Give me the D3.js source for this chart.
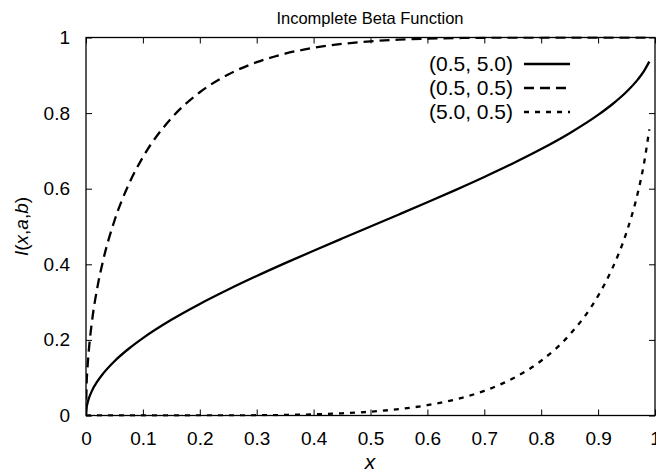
<!DOCTYPE html>
<html><head><meta charset="utf-8">
<script src="https://cdn.jsdelivr.net/npm/d3@7"></script>
<style>
body{margin:0;background:#fff}
text{font-family:"Liberation Sans",Arial,Helvetica,sans-serif;fill:#000}
</style>
</head><body><svg id="c" width="656" height="475"></svg>
<script>
// ---- data ----
const xValues = [0, 0.001, 0.0025, 0.005, 0.01, 0.02, 0.03, 0.05, 0.075, 0.1, 0.15, 0.2, 0.25, 0.3, 0.35, 0.4, 0.45, 0.5, 0.55, 0.6, 0.65, 0.7, 0.75, 0.8, 0.85, 0.9, 0.925, 0.95, 0.97, 0.98, 0.99];
const seriesA = [0, 0.0201, 0.0318, 0.0451, 0.0638, 0.0903, 0.1108, 0.1436, 0.1766, 0.2048, 0.2532, 0.2952, 0.3333, 0.3690, 0.4030, 0.4359, 0.4681, 0.5, 0.5319, 0.5641, 0.5970, 0.6310, 0.6667, 0.7048, 0.7468, 0.7952, 0.8234, 0.8564, 0.8892, 0.9097, 0.9362];
const seriesB = [0, 0.0777, 0.1226, 0.1729, 0.2428, 0.3389, 0.4097, 0.5152, 0.6110, 0.6834, 0.7864, 0.8551, 0.9022, 0.9347, 0.9573, 0.9727, 0.9831, 0.9899, 0.9942, 0.9969, 0.9985, 0.9994, 0.9997, 0.9999, 1, 1, 1, 1, 1, 1, 1];
const seriesC = [0, 0, 0, 0, 0, 0, 0, 0, 0, 0, 0, 0.0001, 0.0003, 0.0007, 0.0015, 0.0031, 0.0058, 0.0101, 0.0169, 0.0273, 0.0427, 0.0653, 0.0979, 0.1449, 0.2136, 0.3166, 0.3891, 0.4848, 0.5904, 0.6611, 0.7572];
const seriesLabels = ["(0.5, 5.0)", "(0.5, 0.5)", "(5.0, 0.5)"];
const xTicks = [0, 0.1, 0.2, 0.3, 0.4, 0.5, 0.6, 0.7, 0.8, 0.9, 1];
const xTickLabels = ["0", "0.1", "0.2", "0.3", "0.4", "0.5", "0.6", "0.7", "0.8", "0.9", "1"];
const yTicks = [0, 0.2, 0.4, 0.6, 0.8, 1];
const yTickLabels = ["0", "0.2", "0.4", "0.6", "0.8", "1"];
const titleText = "Incomplete Beta Function";

// ---- layout ----
const L = 86, R = 655, T = 37.5, B = 415.5;
const FS = 19, FL = 21, FT = 16.5;
const svg = d3.select("#c");
const x = d3.scaleLinear().domain([0, 1]).range([L, R]);
const y = d3.scaleLinear().domain([0, 1]).range([B, T]);

svg.append("defs").append("clipPath").attr("id", "clip")
  .append("rect").attr("x", L).attr("y", T - 1).attr("width", R - L).attr("height", B - T + 2);

const fmtX = (d) => xTickLabels[xTicks.indexOf(d)];
const fmtY = (d) => yTickLabels[yTicks.indexOf(d)];

function styleAxis(g) {
  g.select(".domain").remove();
  g.selectAll(".tick line").attr("stroke", "#000").attr("stroke-width", 1);
  g.selectAll(".tick text").attr("font-size", FS).attr("font-family", '"Liberation Sans",Arial,sans-serif').attr("fill", "#000");
}

svg.append("g").attr("transform", `translate(0,${B})`)
  .call(d3.axisBottom(x).tickValues(xTicks).tickFormat(fmtX).tickSize(-6).tickPadding(16))
  .call(styleAxis);
svg.append("g").attr("transform", `translate(0,${T})`)
  .call(d3.axisTop(x).tickValues(xTicks).tickFormat("").tickSize(-6))
  .call(styleAxis);
svg.append("g").attr("transform", `translate(${L},0)`)
  .call(d3.axisLeft(y).tickValues(yTicks).tickFormat(fmtY).tickSize(-6).tickPadding(16))
  .call(styleAxis);
svg.append("g").attr("transform", `translate(${R},0)`)
  .call(d3.axisRight(y).tickValues(yTicks).tickFormat("").tickSize(-6))
  .call(styleAxis);

svg.append("rect").attr("x", L).attr("y", T).attr("width", R - L).attr("height", B - T)
  .attr("fill", "none").attr("stroke", "#000").attr("stroke-width", 1.3);

const series = [
  {label: seriesLabels[0], vals: seriesA, dash: null},
  {label: seriesLabels[1], vals: seriesB, dash: "10,6"},
  {label: seriesLabels[2], vals: seriesC, dash: "5,6"}
];
const line = d3.line().x((d) => x(d[0])).y((d) => y(d[1])).curve(d3.curveMonotoneX);
const plot = svg.append("g").attr("clip-path", "url(#clip)");
series.forEach((s) => {
  plot.append("path").datum(xValues.map((v, i) => [v, s.vals[i]]))
    .attr("d", line).attr("fill", "none").attr("stroke", "#000").attr("stroke-width", 2.3)
    .attr("stroke-dasharray", s.dash);
});

// legend
const legY = [64, 88, 112];
series.forEach((s, i) => {
  svg.append("text").attr("x", 513).attr("y", legY[i]).attr("dy", "0.35em")
    .attr("text-anchor", "end").attr("font-size", FL).text(s.label);
  svg.append("line").attr("x1", 524).attr("x2", 570).attr("y1", legY[i]).attr("y2", legY[i])
    .attr("stroke", "#000").attr("stroke-width", 2.3).attr("stroke-dasharray", s.dash);
});

// title and axis labels
svg.append("text").attr("x", 370).attr("y", 24).attr("text-anchor", "middle")
  .attr("font-size", FT).text(titleText);
svg.append("text").attr("x", 370).attr("y", 469).attr("text-anchor", "middle")
  .attr("font-size", FL).attr("font-style", "italic").text("x");
const yl = svg.append("text").attr("transform", `translate(28,${(T + B) / 2}) rotate(-90)`)
  .attr("text-anchor", "middle").attr("font-size", FS);
yl.append("tspan").attr("font-style", "italic").text("I");
yl.append("tspan").text("(");
yl.append("tspan").attr("font-style", "italic").text("x");
yl.append("tspan").text(",");
yl.append("tspan").attr("font-style", "italic").text("a");
yl.append("tspan").text(",");
yl.append("tspan").attr("font-style", "italic").text("b");
yl.append("tspan").text(")");
</script>
</body></html>
